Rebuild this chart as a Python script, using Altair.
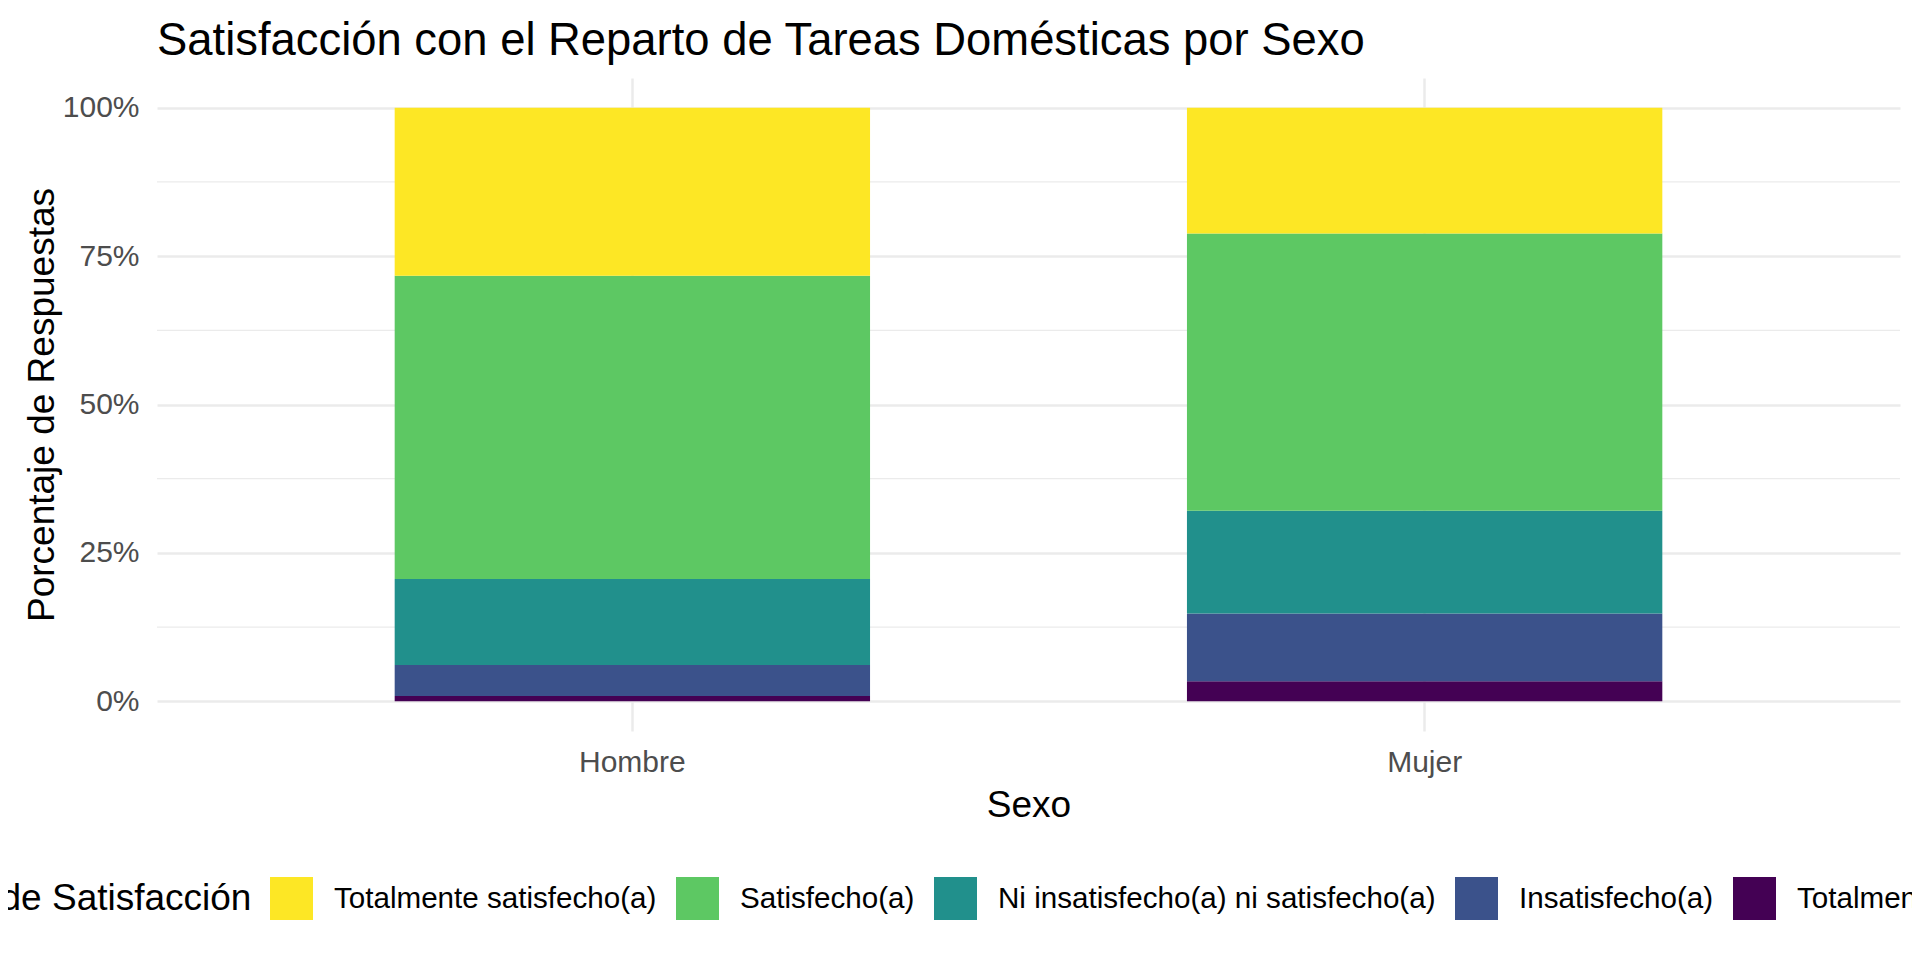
import altair as alt
import pandas as pd

# ---- data ----
sexos = ["Hombre", "Mujer"]
niveles = [
    "Totalmente insatisfecho(a)",
    "Insatisfecho(a)",
    "Ni insatisfecho(a) ni satisfecho(a)",
    "Satisfecho(a)",
    "Totalmente satisfecho(a)",
]
hombre = [0.9, 5.2, 14.5, 51.1, 28.3]
mujer = [3.4, 11.4, 17.3, 46.7, 21.2]
colores = ["#440154", "#3B528B", "#21908C", "#5DC863", "#FDE725"]
minor_breaks = [0.125, 0.375, 0.625, 0.875]
major_breaks = [0, 0.25, 0.5, 0.75, 1.0]

rows = []
for s, vals in zip(sexos, [hombre, mujer]):
    for i, (n, v) in enumerate(zip(niveles, vals)):
        rows.append({"Sexo": s, "Nivel": n, "pct": v, "orden": i})
df = pd.DataFrame(rows)
minor_df = pd.DataFrame({"y": minor_breaks})

FONT = "Liberation Sans"
W, H = 1743, 653

legend_order = list(reversed(niveles))
legend_colors = list(reversed(colores))

bars = alt.Chart(df).mark_bar().encode(
    x=alt.X(
        "Sexo:N",
        sort=sexos,
        scale=alt.Scale(paddingInner=0.4, paddingOuter=0.3),
        axis=alt.Axis(
            title="Sexo",
            labelAngle=0,
            labelFontSize=30,
            labelColor="#4D4D4D",
            labelPadding=16,
            ticks=False,
            domain=False,
            grid=True,
            bandPosition=0.5,
            gridColor="#EBEBEB",
            gridWidth=2.5,
            titleFontSize=37,
            titleFontWeight="normal",
            titleColor="#000000",
            titlePadding=10,
        ),
    ),
    y=alt.Y(
        "pct:Q",
        stack="normalize",
        scale=alt.Scale(domain=[-0.05, 1.05], nice=False, zero=False),
        axis=alt.Axis(
            title="Porcentaje de Respuestas",
            format=".0%",
            values=major_breaks,
            labelFontSize=30,
            labelColor="#4D4D4D",
            labelPadding=18,
            ticks=False,
            domain=False,
            grid=True,
            gridColor="#EBEBEB",
            gridWidth=2.5,
            titleFontSize=37,
            titleFontWeight="normal",
            titleColor="#000000",
            titlePadding=1,
        ),
    ),
    color=alt.Color(
        "Nivel:N",
        scale=alt.Scale(domain=legend_order, range=legend_colors),
        legend=alt.Legend(
            title="Nivel de Satisfacción",
            orient="none",
            legendX=-249,
            legendY=799,
            direction="horizontal",
            titleOrient="left",
            titleAnchor="middle",
            titleBaseline="middle",
            titleFontSize=37,
            titleFontWeight="normal",
            titleColor="#000000",
            titlePadding=18,
            titleLimit=2000,
            symbolType="square",
            symbolSize=1849,
            symbolStrokeWidth=0,
            symbolOpacity=1,
            labelFontSize=29.6,
            labelColor="#000000",
            labelOffset=21,
            labelLimit=2000,
            columnPadding=19,
            padding=0,
        ),
    ),
    order=alt.Order("orden:Q", sort="ascending"),
)

minor = alt.Chart(minor_df).mark_rule(color="#EBEBEB", strokeWidth=1.3).encode(
    y=alt.Y("y:Q"),
    x=alt.value(0),
    x2=alt.value(W),
)

chart = (
    alt.layer(minor, bars)
    .properties(
        width=W,
        height=H,
        title=alt.TitleParams(
            "Satisfacción con el Reparto de Tareas Domésticas por Sexo",
            anchor="start",
            frame="group",
            fontSize=45.4,
            font=FONT,
            fontWeight="normal",
            color="#000000",
            baseline="alphabetic",
            offset=23,
            dy=45,
        ),
        autosize=alt.AutoSizeParams(type="none"),
        padding={"left": 149, "top": 70, "right": 12, "bottom": 210},
        background="white",
    )
    .configure(font=FONT)
    .configure_view(stroke=None)
)

chart.save("out.html", embed_options={"renderer": "svg", "actions": False})
